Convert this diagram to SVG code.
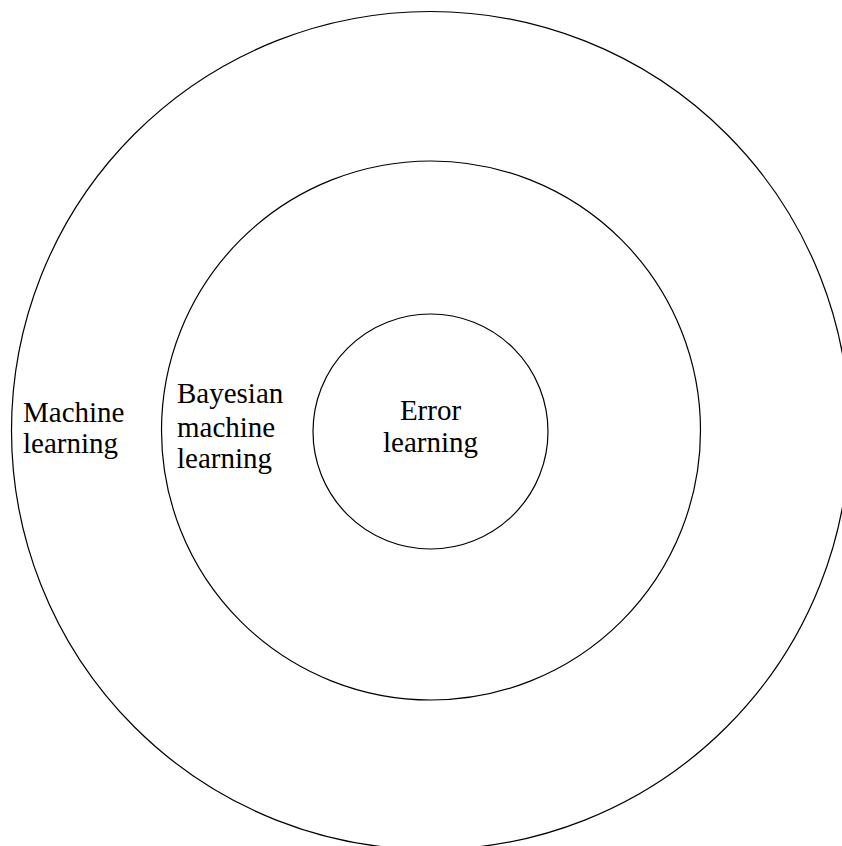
<svg xmlns="http://www.w3.org/2000/svg" width="842" height="846" viewBox="0 0 842 846">
<style>
.ring{fill:none;stroke:#000;stroke-width:1.2}
.lbl{font-family:"Liberation Serif","Times New Roman",serif;font-size:29px;fill:#000}
</style>
<rect width="842" height="846" fill="#fff"/>
<g id="outer">
<circle class="ring" cx="430.5" cy="430.5" r="419"/>
<text class="lbl" x="23" y="422">Machine</text>
<text class="lbl" x="23" y="453">learning</text>
</g>
<g id="middle">
<circle class="ring" cx="431" cy="430.5" r="269.5"/>
<text class="lbl" x="177" y="403">Bayesian</text>
<text class="lbl" x="177" y="437">machine</text>
<text class="lbl" x="177" y="468">learning</text>
</g>
<g id="inner">
<circle class="ring" cx="430.5" cy="431.5" r="117.5"/>
<text class="lbl" x="430.5" y="420" text-anchor="middle">Error</text>
<text class="lbl" x="430.5" y="452" text-anchor="middle">learning</text>
</g>
<g id="connectors"/>
</svg>
